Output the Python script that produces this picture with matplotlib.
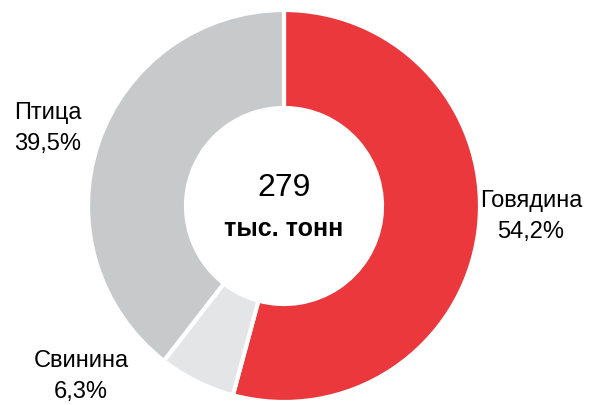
import matplotlib.pyplot as plt

plt.rcParams["font.family"] = ["Liberation Sans", "DejaVu Sans"]

labels = ["Говядина", "Свинина", "Птица"]
shares = [54.2, 6.3, 39.5]
colors = ["#EA383C", "#E4E5E7", "#C8C9CB"]
total_text = "279"
unit_text = "тыс. тонн"

W, H = 593, 405
fig = plt.figure(figsize=[W / 100, H / 100], dpi=100)
ax = fig.add_axes([0, 0, 1, 1])

cx, cy, r = 284, H - 206, 196
ax.pie(shares, colors=colors, startangle=90, counterclock=False,
       center=(cx, cy), radius=r, frame=True,
       wedgeprops=dict(width=r * 0.5, edgecolor="white", linewidth=3))
ax.set_xlim(0, W)
ax.set_ylim(0, H)
ax.set_aspect("equal")
ax.axis("off")

ax.text(cx, H - 188, total_text, ha="center", va="center", fontsize=23, color="black")
ax.text(cx, H - 229, unit_text, ha="center", va="center", fontsize=18, fontweight="bold", color="black")

lab_pos = {"Говядина": (531, 201), "Свинина": (81, 361), "Птица": (48, 113)}
for name, val in zip(labels, shares):
    x, y = lab_pos[name]
    ax.text(x, H - y, name, ha="center", va="center", fontsize=17, color="black")
    ax.text(x, H - y - 31, f"{val:.1f}%".replace(".", ","), ha="center", va="center",
            fontsize=17, color="black")

fig.savefig("out.png", dpi=100)
